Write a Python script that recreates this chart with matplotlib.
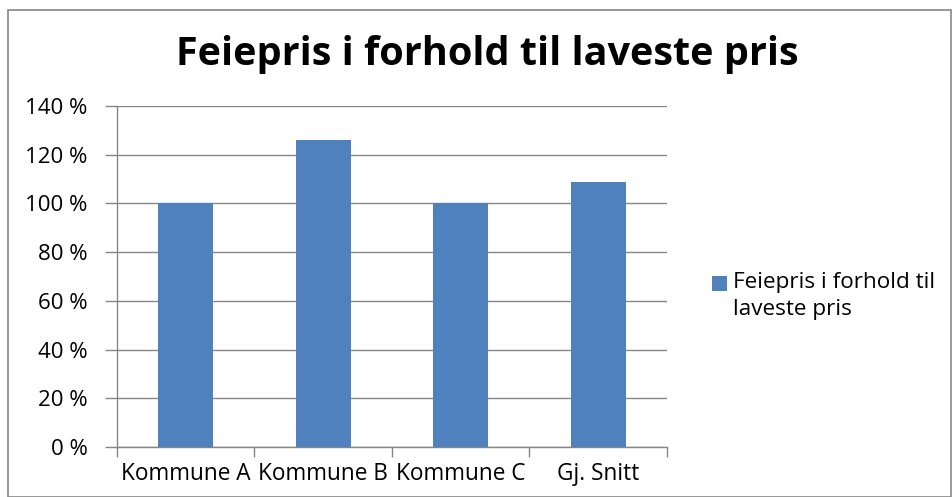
import matplotlib.pyplot as plt
from matplotlib.patches import Rectangle
from matplotlib.container import BarContainer
from matplotlib.legend_handler import HandlerPatch, update_from_first_child
from matplotlib.ticker import FuncFormatter, MultipleLocator

# Data
kommuner = ["Kommune A", "Kommune B", "Kommune C", "Gj. Snitt"]
prosent = [100, 126, 100, 108.7]
serie_navn = "Feiepris i forhold til\nlaveste pris"

plt.rcParams["font.family"] = ["Open Sans", "DejaVu Sans"]

fig = plt.figure(figsize=(9.53, 4.97), dpi=100)
ax = fig.add_axes([117 / 953, 1 - 447 / 497, 550 / 953, 341 / 497])

grid_col = "#868686"
x = range(len(kommuner))
ax.bar(x, prosent, width=0.4, color="#4F81BD", label=serie_navn, zorder=3)

ax.set_xlim(-0.5, len(kommuner) - 0.5)
ax.set_ylim(0, 140)
ax.yaxis.set_major_locator(MultipleLocator(20))
ax.yaxis.set_major_formatter(FuncFormatter(lambda v, p: f"{v:.0f} %"))
ax.grid(axis="y", color=grid_col, linewidth=1, zorder=0)

ax.set_xticks(x)
ax.set_xticklabels(kommuner, fontsize=16.3)
# category boundary ticks
ax.set_xticks([i - 0.5 for i in range(len(kommuner) + 1)], minor=True)
ax.tick_params(axis="x", which="major", length=0, pad=11)
ax.tick_params(axis="x", which="minor", length=7, color=grid_col, width=1)
ax.tick_params(axis="y", length=9, color=grid_col, width=1, labelsize=16, pad=12)

for s in ["top", "right"]:
    ax.spines[s].set_visible(False)
for s in ["left", "bottom"]:
    ax.spines[s].set_color(grid_col)
    ax.spines[s].set_linewidth(1)

fig.text(487 / 953, 1 - 55 / 497, "Feiepris i forhold til laveste pris",
         fontsize=28.5, fontweight="bold", ha="center", va="center")


# legend square next to the first text line
def top_square(legend, orig_handle, xdescent, ydescent, width, height, fontsize):
    return Rectangle((-xdescent, -ydescent + height - width), width, width)


leg = fig.legend(loc="upper left", bbox_to_anchor=(703 / 953, 1 - 263 / 497),
                 frameon=False, fontsize=16.2, handlelength=0.66, handleheight=2.5,
                 handletextpad=0.28, borderaxespad=0,
                 handler_map={BarContainer: HandlerPatch(patch_func=top_square,
                                                         update_func=update_from_first_child)})
for t in leg.get_texts():
    t.set_linespacing(1.4)

# outer chart border
fig.patches.append(Rectangle((8 / 953, 0), 943 / 953, 1 - 10 / 497,
                             transform=fig.transFigure, fill=False,
                             edgecolor=grid_col, linewidth=1.2))

fig.savefig("out.png", dpi=100)
